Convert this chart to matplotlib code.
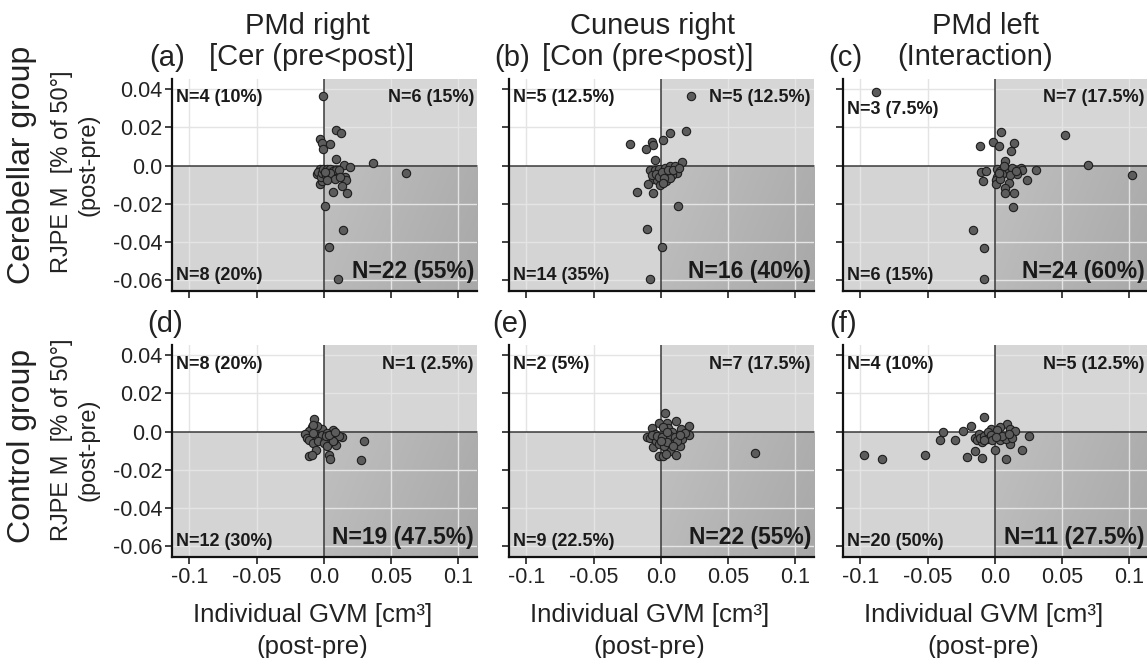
import numpy as np
import matplotlib
matplotlib.use("Agg")
import matplotlib.pyplot as plt
from matplotlib.patches import Rectangle
from matplotlib.colors import LinearSegmentedColormap

plt.rcParams['font.family'] = ['Liberation Sans', 'DejaVu Sans']

# ---------------- data ----------------
col_title_1 = ["PMd right", "Cuneus right", "PMd left"]
col_title_2 = ["[Cer (pre<post)]", "[Con (pre<post)]", "(Interaction)"]
panel_letters = ["(a)", "(b)", "(c)", "(d)", "(e)", "(f)"]
row_labels = ["Cerebellar group", "Control group"]
y_label = "RJPE M  [% of 50°]"
y_sublabel = "(post-pre)"
x_label = "Individual GVM [cm³]"
x_sublabel = "(post-pre)"

x_ticks = [-0.1, -0.05, 0.0, 0.05, 0.1]
x_tick_labels = ["-0.1", "-0.05", "0.0", "0.05", "0.1"]
y_ticks = [0.04, 0.02, 0.0, -0.02, -0.04, -0.06]
y_tick_labels = ["0.04", "0.02", "0.0", "-0.02", "-0.04", "-0.06"]

# quadrant counts: top-left, top-right, bottom-left, bottom-right
quad_labels = [
    ["N=4 (10%)", "N=6 (15%)", "N=8 (20%)", "N=22 (55%)"],
    ["N=5 (12.5%)", "N=5 (12.5%)", "N=14 (35%)", "N=16 (40%)"],
    ["N=3 (7.5%)", "N=7 (17.5%)", "N=6 (15%)", "N=24 (60%)"],
    ["N=8 (20%)", "N=1 (2.5%)", "N=12 (30%)", "N=19 (47.5%)"],
    ["N=2 (5%)", "N=7 (17.5%)", "N=9 (22.5%)", "N=22 (55%)"],
    ["N=4 (10%)", "N=5 (12.5%)", "N=20 (50%)", "N=11 (27.5%)"],
]

a_x = [-0.0032, -0.0012, -0.0008, -0.0004,
       0.0090, 0.0127, 0.0047, 0.0090, 0.0368, 0.0152,
       -0.0032, -0.0052, -0.0027, -0.0015, -0.0040, -0.0022, -0.0010, -0.0005,
       0.0010, 0.0139, 0.0042, 0.0102, 0.0612, 0.0197, 0.0159, 0.0162, 0.0067, 0.0134,
       0.0172, 0.0022, 0.0047, 0.0067, 0.0090, 0.0110, 0.0017, 0.0047, 0.0080, 0.0027,
       0.0007, 0.0122]
a_y = [0.0137, 0.0118, 0.0088, 0.0367,
       0.0187, 0.0173, 0.0113, 0.0032, 0.0012, 0.0002,
       -0.0016, -0.0046, -0.0095, -0.0081, -0.0033, -0.0063, -0.0042, -0.0016,
       -0.0211, -0.0337, -0.0430, -0.0596, -0.0042, -0.0007, -0.0063, -0.0078, -0.0139, -0.0109,
       -0.0143, -0.0019, -0.0016, -0.0028, -0.0025, -0.0025, -0.0051, -0.0042, -0.0069, -0.0078,
       -0.0033, -0.0063]

b_x = [-0.0228, -0.0067, -0.0055, -0.0112, -0.0047,
       0.0015, 0.0069, 0.0186, 0.0156, 0.0224,
       -0.0174, -0.0055, -0.0104, -0.0084, -0.0084, -0.0042, -0.0017, -0.0060, -0.0030,
       -0.0092, -0.0005, -0.0067, -0.0035, -0.0010,
       0.0129, 0.0007, 0.0032, 0.0069, 0.0107, 0.0119, 0.0082, 0.0045, 0.0007, 0.0040,
       0.0069, 0.0020, 0.0057, 0.0094, 0.0015, 0.0132]
b_y = [0.0112, 0.0126, 0.0109, 0.0086, 0.0030,
       0.0135, 0.0172, 0.0184, 0.0016, 0.0368,
       -0.0139, -0.0144, -0.0335, -0.0595, -0.0023, -0.0023, -0.0018, -0.0070, -0.0075,
       -0.0098, -0.0105, -0.0049, -0.0046, -0.0058,
       -0.0211, -0.0428, -0.0014, -0.0002, -0.0005, -0.0040, -0.0049, -0.0040, -0.0032, -0.0084,
       -0.0067, -0.0067, -0.0023, -0.0023, -0.0093, -0.0014]

c_x = [-0.0112, -0.0015, -0.0888,
       0.0047, 0.0522, 0.0030, 0.0142, 0.0117, 0.0075, 0.0697,
       -0.0159, -0.0080, -0.0077, -0.0100, -0.0085, -0.0065,
       0.1020, 0.0303, 0.0241, 0.0132, 0.0017, 0.0042, 0.0087, 0.0129, 0.0192, 0.0204,
       0.0167, 0.0112, 0.0055, 0.0017, 0.0007, 0.0012, 0.0042, 0.0104, 0.0075, 0.0075,
       0.0142, 0.0030, 0.0067, 0.0154]
c_y = [0.0100, 0.0126, 0.0384,
       0.0174, 0.0163, 0.0100, 0.0116, 0.0074, 0.0023, 0.0005,
       -0.0340, -0.0432, -0.0598, -0.0032, -0.0080, -0.0028,
       -0.0051, -0.0025, -0.0075, -0.0218, -0.0019, -0.0028, -0.0028, -0.0011, -0.0014, -0.0025,
       -0.0046, -0.0051, -0.0046, -0.0058, -0.0077, -0.0098, -0.0072, -0.0090, -0.0116, -0.0146,
       -0.0147, -0.0037, -0.0002, -0.0028]

d_x = [-0.0070, -0.0090, -0.0065, -0.0040, -0.0015, -0.0107, -0.0052, -0.0077,
       0.0067,
       -0.0139, -0.0127, -0.0107, -0.0082, -0.0057, -0.0114, -0.0090, -0.0052, -0.0027,
       -0.0015, -0.0077, -0.0040,
       0.0010, 0.0035, 0.0060, 0.0097, 0.0134, 0.0092, 0.0042, 0.0047, 0.0301, 0.0276,
       0.0022, 0.0002, 0.0017, 0.0072, 0.0110, 0.0027, 0.0067, 0.0042, 0.0085]
d_y = [0.0068, 0.0023, 0.0009, 0.0017, 0.0012, 0.0005, 0.0030, 0.0035,
       0.0009,
       -0.0014, -0.0035, -0.0043, -0.0061, -0.0096, -0.0130, -0.0122, -0.0026, -0.0043,
       -0.0017, -0.0009, -0.0052,
       -0.0043, -0.0040, -0.0026, -0.0017, -0.0031, -0.0071, -0.0122, -0.0144, -0.0049, -0.0151,
       -0.0009, -0.0061, -0.0026, -0.0043, -0.0026, -0.0078, -0.0052, -0.0017, -0.0005]

e_x = [-0.0017, -0.0067,
       0.0030, 0.0045, 0.0114, 0.0206, 0.0149, 0.0057, 0.0015,
       -0.0104, -0.0079, -0.0042, -0.0055, -0.0017, -0.0035, -0.0067, -0.0010, -0.0025,
       0.0702, 0.0015, 0.0069, 0.0114, 0.0139, 0.0156, 0.0206, 0.0082, 0.0032, 0.0082,
       0.0020, 0.0069, 0.0107, 0.0007, 0.0045, 0.0181, 0.0045, 0.0002, 0.0119, 0.0089,
       0.0040, 0.0144]
e_y = [0.0047, 0.0017,
       0.0096, 0.0047, 0.0056, 0.0030, 0.0012, 0.0017, 0.0024,
       -0.0031, -0.0035, -0.0014, -0.0083, -0.0127, -0.0049, -0.0017, -0.0066, -0.0023,
       -0.0113, -0.0127, -0.0101, -0.0123, -0.0078, -0.0037, -0.0017, -0.0049, -0.0023, -0.0005,
       -0.0075, -0.0023, -0.0031, -0.0031, -0.0057, -0.0010, -0.0005, -0.0049, -0.0052, -0.0078,
       -0.0118, -0.0017]

f_x = [-0.0080, -0.0177, -0.0239, -0.0025,
       0.0087, 0.0040, 0.0112, 0.0015, 0.0147,
       -0.0970, -0.0843, -0.0517, -0.0410, -0.0388, -0.0299, -0.0204, -0.0144, -0.0095,
       -0.0144, -0.0119, -0.0132, -0.0095, -0.0107, -0.0077, -0.0050, -0.0057, -0.0032,
       -0.0020, -0.0082,
       0.0085, 0.0204, 0.0254, 0.0002, 0.0042, 0.0110, 0.0080, 0.0129, 0.0055, 0.0012,
       0.0104]
f_y = [0.0075, 0.0028, 0.0004, 0.0015,
       0.0037, 0.0025, 0.0012, 0.0008, 0.0005,
       -0.0125, -0.0146, -0.0122, -0.0043, -0.0005, -0.0047, -0.0136, -0.0103, -0.0139,
       -0.0033, -0.0012, -0.0047, -0.0056, -0.0033, -0.0021, -0.0003, -0.0038, -0.0017,
       -0.0047, -0.0043,
       -0.0144, -0.0099, -0.0024, -0.0096, -0.0047, -0.0068, -0.0038, -0.0035, -0.0021, -0.0030,
       -0.0012]

panel_x = [a_x, b_x, c_x, d_x, e_x, f_x]
panel_y = [a_y, b_y, c_y, d_y, e_y, f_y]

# ---------------- layout ----------------
W, H = 1147, 658
fig = plt.figure(figsize=(W / 100, H / 100), dpi=100)
fig.patch.set_facecolor("white")

col_left = [172, 509, 843]
row_top = [79, 345]
ax_w, ax_h = 305, 212
XLIM = (-0.113, 0.114)
YLIM = (-0.066, 0.0455)

tl_y = [0.915, 0.915, 0.855, 0.906, 0.906, 0.906]

grad_cmap = LinearSegmentedColormap.from_list("g", ["#c0c0c0", "#a8a8a8"])

def fx(px):
    return px / W

def fy(py):
    return 1 - py / H

for i in range(6):
    r, c = divmod(i, 3)
    l, t = col_left[c], row_top[r]
    ax = fig.add_axes([l / W, 1 - (t + ax_h) / H, ax_w / W, ax_h / H])
    ax.set_facecolor("white")
    # quadrant shading (top-left white, top-right & bottom-left light grey,
    # bottom-right darker grey gradient)
    ax.fill([XLIM[0], 0, 0, XLIM[0]], [0, 0, YLIM[1], YLIM[1]],
            facecolor="#ffffff", edgecolor="none", zorder=0.2)
    ax.fill([0, XLIM[1], XLIM[1], 0], [0, 0, YLIM[1], YLIM[1]],
            facecolor="#d6d6d6", edgecolor="none", zorder=0.2)
    ax.fill([XLIM[0], 0, 0, XLIM[0]], [YLIM[0], YLIM[0], 0, 0],
            facecolor="#d4d4d4", edgecolor="none", zorder=0.2)
    gx = np.linspace(0, 1, 200)
    gy = np.linspace(0, 1, 100)
    G = 0.75 * gx[None, :] + 0.25 * gy[:, None]
    ax.imshow(G, extent=[0, XLIM[1], YLIM[0], 0], origin="upper", aspect="auto",
              cmap=grad_cmap, zorder=0.3, interpolation="bilinear")
    # grid
    for xt in x_ticks:
        if xt != 0:
            ax.plot([xt, xt], [YLIM[0], YLIM[1]], color="#e4e4e4", lw=1.0, zorder=0.5)
    for yt in y_ticks:
        if yt != 0:
            ax.plot([XLIM[0], XLIM[1]], [yt, yt], color="#e4e4e4", lw=1.0, zorder=0.5)
    ax.axhline(0, color="#3a3a3a", lw=1.1, zorder=1)
    ax.axvline(0, color="#3a3a3a", lw=1.1, zorder=1)

    ax.scatter(panel_x[i], panel_y[i], s=36, c="#5c5c5c", edgecolors="#1e1e1e",
               linewidths=0.8, zorder=3)

    ax.set_xlim(*XLIM)
    ax.set_ylim(*YLIM)
    ax.set_xticks(x_ticks)
    ax.set_yticks(y_ticks)
    ax.set_xticklabels(x_tick_labels)
    ax.set_yticklabels(y_tick_labels)
    for s in ["top", "right"]:
        ax.spines[s].set_visible(False)
    for s in ["left", "bottom"]:
        ax.spines[s].set_linewidth(1.6)
        ax.spines[s].set_color("#111111")
    ax.tick_params(direction="out", length=5, width=1.2, color="#222222",
                   labelsize=15.5, labelcolor="#222222", pad=2)
    if c != 0:
        ax.tick_params(labelleft=False)
    if r == 0:
        ax.tick_params(labelbottom=False)

    ql = quad_labels[i]
    ax.text(0.013, tl_y[i], ql[0], transform=ax.transAxes, ha="left", va="center",
            fontsize=13, fontweight="bold", color="#1a1a1a", zorder=4)
    ax.text(0.99, 0.915 if r == 0 else 0.906, ql[1], transform=ax.transAxes, ha="right",
            va="center", fontsize=13, fontweight="bold", color="#1a1a1a", zorder=4)
    ax.text(0.013, 0.072, ql[2], transform=ax.transAxes, ha="left", va="center",
            fontsize=13, fontweight="bold", color="#1a1a1a", zorder=4)
    ax.text(0.99, 0.09, ql[3], transform=ax.transAxes, ha="right", va="center",
            fontsize=16.5, fontweight="bold", color="#1a1a1a", zorder=4)

# column titles
t1_x = [307, 652, 985]
t2_x = [312, 648, 975]
letter_x = [167, 512, 845]
for c in range(3):
    fig.text(fx(t1_x[c]), fy(26), col_title_1[c], ha="center", va="center",
             fontsize=21, color="#222222")
    fig.text(fx(t2_x[c]), fy(57), col_title_2[c], ha="center", va="center",
             fontsize=21, color="#222222")
    fig.text(fx(letter_x[c]), fy(58), panel_letters[c], ha="center", va="center",
             fontsize=21, color="#222222")
    fig.text(fx(letter_x[c] - 2), fy(324), panel_letters[c + 3], ha="center", va="center",
             fontsize=21, color="#222222")
    cx = col_left[c] + ax_w / 2 - 12
    fig.text(fx(cx), fy(615), x_label, ha="center", va="center", fontsize=18.5,
             color="#222222")
    fig.text(fx(cx), fy(647), x_sublabel, ha="center", va="center", fontsize=18.5,
             color="#222222")

# row labels
row_cy = [165, 446]
rj_cy = [172, 440]
sub_cy = [165, 450]
for r in range(2):
    fig.text(fx(22), fy(row_cy[r]), row_labels[r], rotation=90, ha="center",
             va="center", fontsize=23, color="#222222")
    fig.text(fx(62), fy(rj_cy[r]), y_label, rotation=90, ha="center", va="center",
             fontsize=17, color="#222222")
    fig.text(fx(88), fy(sub_cy[r]), y_sublabel, rotation=90, ha="center", va="center",
             fontsize=17, color="#222222")

fig.savefig("out.png", dpi=100)
